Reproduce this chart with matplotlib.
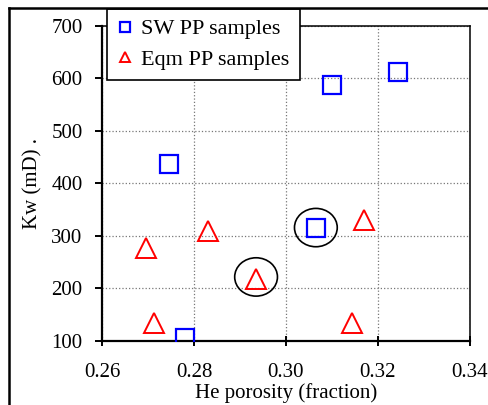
import matplotlib.pyplot as plt
from matplotlib.patches import Ellipse
from matplotlib.lines import Line2D

plt.rcParams['font.family'] = ['Liberation Serif', 'DejaVu Serif']

# SW PP samples
sw_phi = [0.2746, 0.2780, 0.3065, 0.3100, 0.3243]
sw_kw = [437, 106, 316, 588, 613]

# Eqm PP samples
eqm_phi = [0.2696, 0.2713, 0.2830, 0.2935, 0.3143, 0.3170]
eqm_kw = [277, 134, 310, 218, 134, 330]

# circled points
circled_phi = [0.3065, 0.2935]
circled_kw = [316, 222]

fig = plt.figure(figsize=(4.88, 4.05), dpi=100)
ax = fig.add_axes([0.209, 0.158, 0.754, 0.778])

ax.plot(sw_phi, sw_kw, ls='none', marker='s', ms=13.5, mfc='none',
        mec='#0000ff', mew=1.6, label='SW PP samples', zorder=3)
ax.plot(eqm_phi, eqm_kw, ls='none', marker='^', ms=15, mfc='none',
        mec='#ff0000', mew=1.4, label='Eqm PP samples', zorder=3)

for x, y in zip(circled_phi, circled_kw):
    ax.add_patch(Ellipse((x, y), 0.0093, 73, fill=False, ec='black', lw=1.2, zorder=4))

ax.set_xlim(0.26, 0.34)
ax.set_ylim(100, 700)
ax.set_xticks([0.26, 0.28, 0.30, 0.32, 0.34])
ax.set_xticklabels(['0.26', '0.28', '0.30', '0.32', '0.34'])
ax.set_yticks(range(100, 701, 100))

ax.grid(True, color='#777777', linestyle=':', linewidth=0.9)
ax.set_axisbelow(True)
for s in ax.spines.values():
    s.set_color('black')
    s.set_linewidth(1.1)
ax.spines['left'].set_linewidth(1.6)
ax.spines['bottom'].set_linewidth(1.6)

ax.tick_params(axis='x', direction='inout', length=7, width=1.4, labelsize=15, pad=12)
ax.tick_params(axis='y', direction='out', length=5, width=1.4, labelsize=15, pad=9)

ax.set_xlabel('He porosity (fraction)', fontsize=15, labelpad=1)
ax.set_ylabel('Kw (mD) .', fontsize=15, labelpad=6)

leg = ax.legend(loc='upper left', bbox_to_anchor=(0.0136, 1.054), borderaxespad=0,
                fontsize=16, markerscale=0.5, handlelength=0.7, handletextpad=0.4,
                borderpad=0.45, labelspacing=0.45, fancybox=False, framealpha=1,
                edgecolor='black')
leg.get_frame().set_linewidth(1.2)
leg.set_zorder(10)

# outer frame (left and top edges visible)
fig.add_artist(Line2D([0.018, 0.018], [0.0, 0.980], color='black', lw=1.8))
fig.add_artist(Line2D([0.018, 1.0], [0.980, 0.980], color='black', lw=1.8))

fig.savefig('out.png', dpi=100)
